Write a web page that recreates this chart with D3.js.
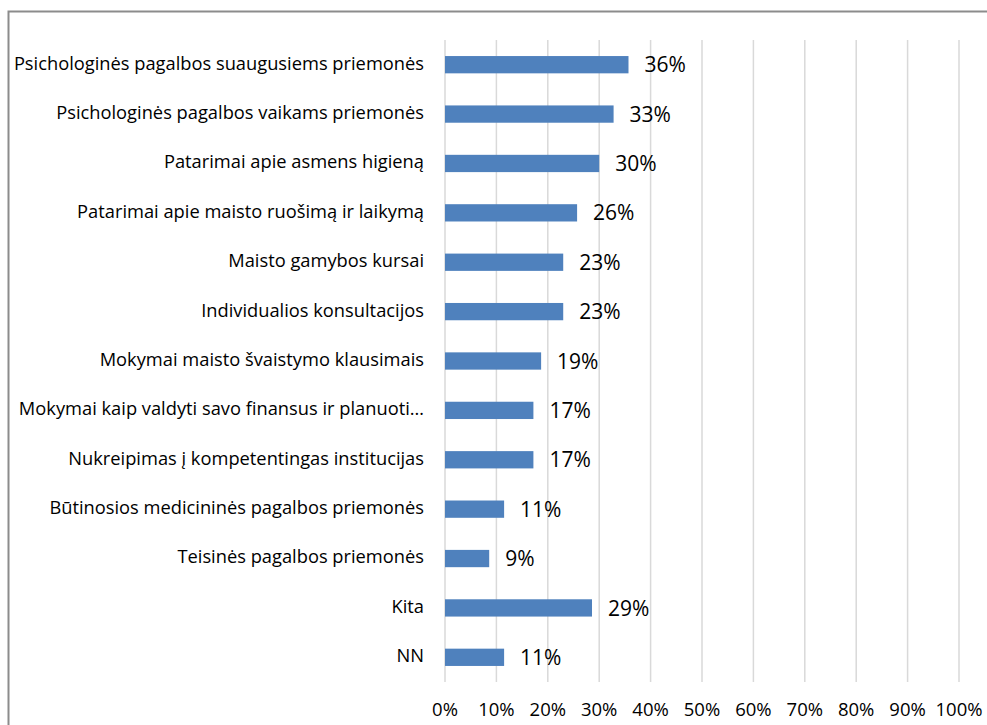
<!DOCTYPE html>
<html><head><meta charset="utf-8">
<script src="https://cdn.jsdelivr.net/npm/d3@7"></script>
<style>body{margin:0;background:#fff;} svg{display:block;}</style>
</head><body>
<script>
const categories = [
  "Psichologinės pagalbos suaugusiems priemonės",
  "Psichologinės pagalbos vaikams priemonės",
  "Patarimai apie asmens higieną",
  "Patarimai apie maisto ruošimą ir laikymą",
  "Maisto gamybos kursai",
  "Individualios konsultacijos",
  "Mokymai maisto švaistymo klausimais",
  "Mokymai kaip valdyti savo finansus ir planuoti…",
  "Nukreipimas į kompetentingas institucijas",
  "Būtinosios medicininės pagalbos priemonės",
  "Teisinės pagalbos priemonės",
  "Kita",
  "NN"
];
const values = [35.7, 32.8, 30.0, 25.7, 23.0, 23.0, 18.7, 17.2, 17.2, 11.5, 8.6, 28.6, 11.5];
const valueLabels = ["36%","33%","30%","26%","23%","23%","19%","17%","17%","11%","9%","29%","11%"];
const ticks = [0,10,20,30,40,50,60,70,80,90,100];
const tickLabels = ["0%","10%","20%","30%","40%","50%","60%","70%","80%","90%","100%"];

const W = 987, H = 725;
const svg = d3.select("body").append("svg").attr("width", W).attr("height", H);
const font = "'Open Sans', sans-serif";

svg.append("rect").attr("x", 8.5).attr("y", 11.5).attr("width", 1000).attr("height", 800)
  .attr("fill", "#fff").attr("stroke", "#8c8c8c").attr("stroke-width", 2);

const x = d3.scaleLinear().domain([0, 100]).range([445, 959]);
const y = d3.scaleBand().domain(categories).range([40, 682]).paddingInner(0.65).paddingOuter(0.325);

const g = svg.append("g");
g.selectAll("line.grid").data(ticks).join("line").attr("class","grid")
  .attr("x1", d => x(d)).attr("x2", d => x(d)).attr("y1", 40).attr("y2", 682)
  .attr("stroke", "#d9d9d9").attr("stroke-width", 1.5);

g.selectAll("rect.bar").data(values).join("rect").attr("class","bar")
  .attr("x", x(0)).attr("y", (d,i) => y(categories[i]))
  .attr("width", d => x(d) - x(0)).attr("height", y.bandwidth())
  .attr("fill", "#4f81bd");

g.selectAll("text.val").data(values).join("text").attr("class","val")
  .attr("x", d => x(d) + 16).attr("y", (d,i) => y(categories[i]) + y.bandwidth()/2 + 2)
  .attr("dominant-baseline", "middle").attr("font-family", font).attr("font-size", 21)
  .attr("fill", "#000").text((d,i) => valueLabels[i]);

g.selectAll("text.cat").data(categories).join("text").attr("class","cat")
  .attr("x", 424).attr("y", d => y(d) + y.bandwidth()/2)
  .attr("dominant-baseline", "middle").attr("text-anchor", "end")
  .attr("font-family", font).attr("font-size", 18.3).attr("fill", "#000").text(d => d);

g.selectAll("text.tick").data(ticks).join("text").attr("class","tick")
  .attr("x", d => x(d)).attr("y", 711)
  .attr("dominant-baseline", "middle").attr("text-anchor", "middle")
  .attr("font-family", font).attr("font-size", 18.5).attr("fill", "#000").text((d,i) => tickLabels[i]);
</script>
</body></html>
